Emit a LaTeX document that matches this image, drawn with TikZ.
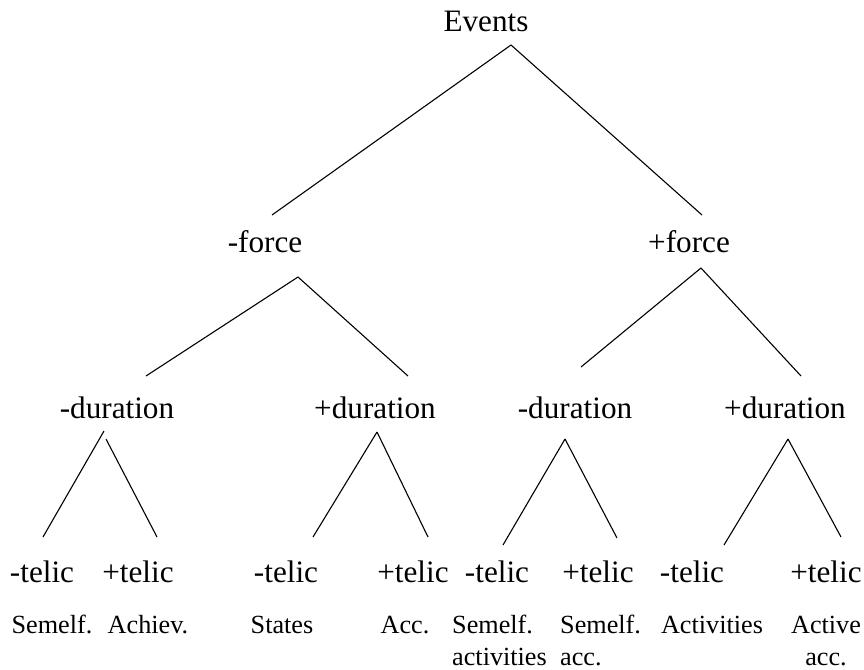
\documentclass[tikz,border=0pt]{standalone}
\usepackage{fontspec}
\setmainfont{Liberation Serif}
\usepackage{tikz}

\begin{document}
\begin{tikzpicture}[
        x=1pt, y=-1pt,
        feat/.style={inner sep=0pt, anchor=base, font=\fontsize{31.2}{37}\selectfont},
        cls/.style={inner sep=0pt, anchor=base, font=\fontsize{26.2}{32}\selectfont},
        branch/.style={line width=1.1pt}
    ]
        \useasboundingbox (0,0) rectangle (864,669);

        % Feature nodes
        \node[feat] (events) at (486,32) {Events};
        \node[feat] (mforce) at (265,252) {-force};
        \node[feat] (pforce) at (689,252) {+force};
        \node[feat] (mdurA) at (117,418) {-duration};
        \node[feat] (pdurA) at (375,418) {+duration};
        \node[feat] (mdurB) at (575,418) {-duration};
        \node[feat] (pdurB) at (785,418) {+duration};
        \node[feat] (mtelA) at (42,582) {-telic};
        \node[feat] (ptelA) at (138,582) {+telic};
        \node[feat] (mtelB) at (286,582) {-telic};
        \node[feat] (ptelB) at (413,582) {+telic};
        \node[feat] (mtelC) at (497,582) {-telic};
        \node[feat] (ptelC) at (598,582) {+telic};
        \node[feat] (mtelD) at (692,582) {-telic};
        \node[feat] (ptelD) at (826,582) {+telic};

        % Event classes (two-line ones sit on their last line)
        \node[cls] (semelf) at (52,633) {Semelf.};
        \node[cls] (achiev) at (148,633) {Achiev.};
        \node[cls] (states) at (282,633) {States};
        \node[cls] (acc) at (405,633) {Acc.};
        \node[cls, anchor=base west, align=left] (semact) at (452,665) {Semelf.\\activities};
        \node[cls, anchor=base west, align=left] (semacc) at (560,665) {Semelf.\\acc.};
        \node[cls] (activ) at (712,633) {Activities};
        \node[cls, align=center] (actacc) at (826,665) {Active\\acc.};

        % Branches from Events
        \draw[branch] ([shift={(25,13)}]events.base) -- ([shift={(7,-37)}]mforce.base);
        \draw[branch] ([shift={(25,13)}]events.base) -- ([shift={(13,-37)}]pforce.base);

        % Branches from force
        \draw[branch] ([shift={(33,25)}]mforce.base) -- ([shift={(29,-42)}]mdurA.base);
        \draw[branch] ([shift={(33,25)}]mforce.base) -- ([shift={(33,-42)}]pdurA.base);
        \draw[branch] ([shift={(12,16)}]pforce.base) -- ([shift={(6,-51)}]mdurB.base);
        \draw[branch] ([shift={(12,16)}]pforce.base) -- ([shift={(16,-42)}]pdurB.base);

        % Branches from duration
        \draw[branch] ([shift={(-13,13)}]mdurA.base) -- ([shift={(1,-45)}]mtelA.base);
        \draw[branch] ([shift={(-11,21)}]mdurA.base) -- ([shift={(19,-45)}]ptelA.base);
        \draw[branch] ([shift={(2,14)}]pdurA.base) -- ([shift={(27,-45)}]mtelB.base);
        \draw[branch] ([shift={(2,14)}]pdurA.base) -- ([shift={(15,-45)}]ptelB.base);
        \draw[branch] ([shift={(-10,21)}]mdurB.base) -- ([shift={(6,-37)}]mtelC.base);
        \draw[branch] ([shift={(-10,21)}]mdurB.base) -- ([shift={(19,-44)}]ptelC.base);
        \draw[branch] ([shift={(3,21)}]pdurB.base) -- ([shift={(32,-37)}]mtelD.base);
        \draw[branch] ([shift={(3,21)}]pdurB.base) -- ([shift={(15,-45)}]ptelD.base);
    \end{tikzpicture}
\end{document}
